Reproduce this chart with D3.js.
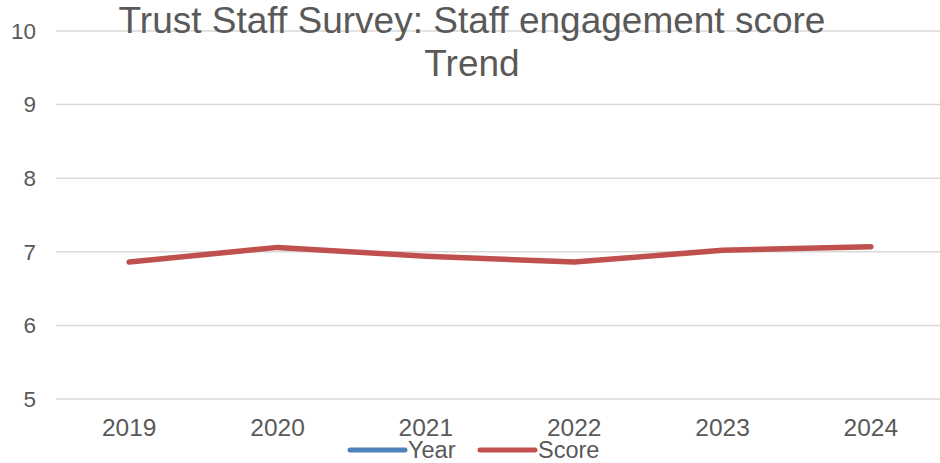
<!DOCTYPE html>
<html>
<head>
<meta charset="utf-8">
<script src="https://cdn.jsdelivr.net/npm/d3@7"></script>
<style>
  html, body { margin: 0; padding: 0; background: #fff; }
  svg { display: block; font-family: "Liberation Sans", Arial, sans-serif; }
</style>
</head>
<body>
<svg id="chart" width="940" height="463"></svg>
<script>
// Survey years and engagement scores
const years = ["2019", "2020", "2021", "2022", "2023", "2024"];
const scores = [6.86, 7.06, 6.94, 6.86, 7.02, 7.07];
const yTicks = [5, 6, 7, 8, 9, 10];
const titleLines = ["Trust Staff Survey: Staff engagement score", "Trend"];
const legendItems = [
  { name: "Year", color: "#4f81bd" },
  { name: "Score", color: "#c0504d" }
];

const svg = d3.select("#chart");
const W = 940;
const textColor = "#595959";

const x = d3.scaleBand().domain(years).range([55, 945]);
const y = d3.scaleLinear().domain([5, 10]).range([399, 31]);

// horizontal gridlines
svg.append("g")
  .selectAll("line")
  .data(yTicks)
  .join("line")
  .attr("x1", 56).attr("x2", W)
  .attr("y1", d => y(d)).attr("y2", d => y(d))
  .attr("stroke", "#d9d9d9")
  .attr("stroke-width", 1.5);

// y axis labels
const yAxis = svg.append("g")
  .attr("transform", "translate(36,0)")
  .call(d3.axisLeft(y).tickValues(yTicks).tickSize(0).tickPadding(0).tickFormat(d3.format("d")));
yAxis.select(".domain").remove();
yAxis.selectAll("text")
  .attr("fill", textColor)
  .style("font-size", "22.5px")
  .style("font-family", "Liberation Sans, Arial, sans-serif");

// x axis labels
const xAxis = svg.append("g")
  .attr("transform", "translate(0,436)")
  .call(d3.axisBottom(x).tickSize(0).tickPadding(0));
xAxis.select(".domain").remove();
xAxis.selectAll("text")
  .attr("fill", textColor)
  .attr("y", 0)
  .attr("dy", 0)
  .style("font-size", "24.5px")
  .style("font-family", "Liberation Sans, Arial, sans-serif");

// title
svg.append("text")
  .attr("text-anchor", "middle")
  .attr("fill", textColor)
  .style("font-size", "37px")
  .selectAll("tspan")
  .data(titleLines)
  .join("tspan")
  .attr("x", 472)
  .attr("y", (d, i) => 33 + i * 43)
  .text(d => d);

// score line
const line = d3.line()
  .x((d, i) => x(years[i]) + x.bandwidth() / 2)
  .y(d => y(d));

svg.append("path")
  .datum(scores)
  .attr("d", line)
  .attr("fill", "none")
  .attr("stroke", "#c0504d")
  .attr("stroke-width", 5.5)
  .attr("stroke-linecap", "round")
  .attr("stroke-linejoin", "round");

// legend
const legendX = [350, 480];
const lg = svg.append("g")
  .selectAll("g")
  .data(legendItems)
  .join("g")
  .attr("transform", (d, i) => `translate(${legendX[i]},450)`);
lg.append("line")
  .attr("x1", 0).attr("x2", 55)
  .attr("stroke", d => d.color)
  .attr("stroke-width", 5)
  .attr("stroke-linecap", "round");
lg.append("text")
  .attr("x", 58)
  .attr("y", 7.5)
  .attr("fill", textColor)
  .style("font-size", "23.5px")
  .text(d => d.name);
</script>
</body>
</html>
